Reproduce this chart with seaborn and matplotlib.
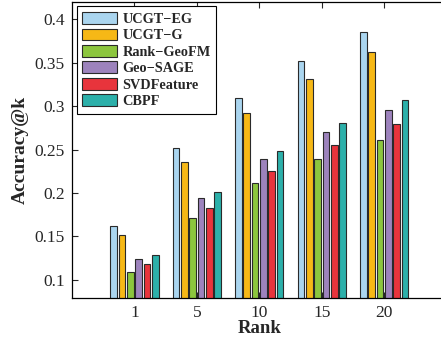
import pandas as pd
import matplotlib.pyplot as plt
import seaborn as sns
from matplotlib.ticker import FormatStrFormatter

# Values
ranks = ['1', '5', '10', '15', '20']
methods = ['UCGT−EG', 'UCGT−G', 'Rank−GeoFM', 'Geo−SAGE', 'SVDFeature', 'CBPF']
ucgt_eg = [0.162, 0.252, 0.310, 0.352, 0.385]
ucgt_g = [0.152, 0.236, 0.292, 0.331, 0.362]
rank_geofm = [0.109, 0.171, 0.211, 0.239, 0.261]
geo_sage = [0.124, 0.194, 0.239, 0.270, 0.296]
svdfeature = [0.118, 0.183, 0.225, 0.255, 0.279]
cbpf = [0.129, 0.201, 0.248, 0.281, 0.307]
colors = ['#aad5ef', '#f6b816', '#8cc63e', '#9d83bd', '#e8343c', '#2cb0aa']

values = [ucgt_eg, ucgt_g, rank_geofm, geo_sage, svdfeature, cbpf]
rows = []
for m, vals in zip(methods, values):
    for r, v in zip(ranks, vals):
        rows.append({'Rank': r, 'Method': m, 'Accuracy': v})
df = pd.DataFrame(rows)

sns.set_style('white')
plt.rcParams['font.family'] = ['Liberation Serif', 'DejaVu Serif']

fig = plt.figure(figsize=(4.41, 3.45), dpi=100)
ax = fig.add_axes([0.163, 0.136, 0.85, 0.858])

sns.barplot(data=df, x='Rank', y='Accuracy', hue='Method', order=ranks,
            hue_order=methods, palette=colors, width=0.8, gap=0.2,
            edgecolor='#2a2a2a', linewidth=0.8, saturation=1, ax=ax)

ax.set_xlim(-1, 5)
ax.set_ylim(0.079, 0.42)
ax.set_yticks([0.1, 0.15, 0.2, 0.25, 0.3, 0.35, 0.4])
ax.yaxis.set_major_formatter(FormatStrFormatter('%g'))
ax.tick_params(direction='in', length=4, width=0.8, labelsize=12.5, pad=5,
               top=True, right=True, left=True, bottom=True)
for s in ax.spines.values():
    s.set_color('black')
    s.set_linewidth(0.9)

ax.set_xlabel('Rank', fontsize=13.5, fontweight='bold', labelpad=-1)
ax.set_ylabel('Accuracy@k', fontsize=14, fontweight='bold', labelpad=4)

leg = ax.legend(loc='upper left', bbox_to_anchor=(0.005, 0.995), frameon=True,
                prop={'weight': 'bold', 'size': 10.3}, handlelength=2.4,
                handleheight=0.9, labelspacing=0.18, borderpad=0.4,
                handletextpad=0.4, fancybox=False, borderaxespad=0.2)
leg.get_frame().set_edgecolor('black')
leg.get_frame().set_linewidth(0.8)
leg.get_frame().set_alpha(1)

fig.savefig('out.png', dpi=100)
